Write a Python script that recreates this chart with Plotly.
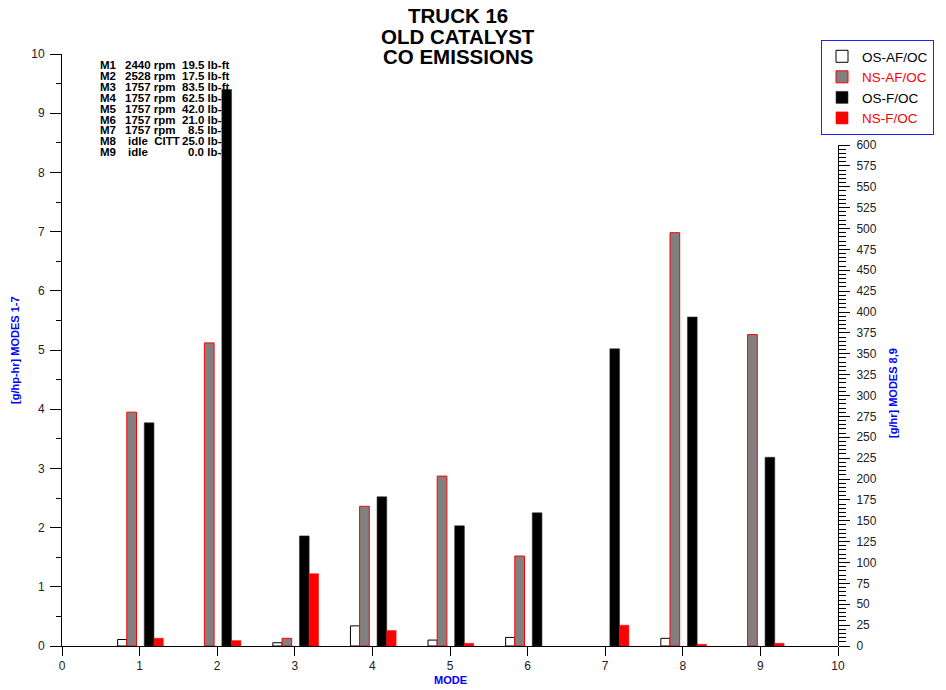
import plotly.graph_objects as go

# ---------------- data ----------------
modes_left = [1, 2, 3, 4, 5, 6, 7]          # plotted in g/hp-hr (left axis)
modes_right = [8, 9]                          # plotted in g/hr (right axis)

# None = no bar drawn for that mode
os_af_oc_left = [0.11, None, 0.055, 0.34, 0.10, 0.145, None]
ns_af_oc_left = [3.95, 5.12, 0.13, 2.36, 2.87, 1.52, None]
os_f_oc_left = [3.77, 9.40, 1.86, 2.52, 2.03, 2.25, 5.02]
ns_f_oc_left = [0.13, 0.09, 1.22, 0.26, 0.045, None, 0.35]

os_af_oc_right = [9.2, None]
ns_af_oc_right = [495, 373]
os_f_oc_right = [394, 226]
ns_f_oc_right = [2.0, 3.2]

series_names = ["OS-AF/OC", "NS-AF/OC", "OS-F/OC", "NS-F/OC"]

note_modes = ["M1", "M2", "M3", "M4", "M5", "M6", "M7", "M8", "M9"]
note_speeds = ["2440 rpm", "2528 rpm", "1757 rpm", "1757 rpm", "1757 rpm",
               "1757 rpm", "1757 rpm", "idle\u00a0\u00a0CITT", "idle"]
note_torques = ["19.5 lb-ft", "17.5 lb-ft", "83.5 lb-ft", "62.5 lb-ft", "42.0 lb-ft",
                "21.0 lb-ft", "8.5 lb-ft", "25.0 lb-ft", "0.0 lb-ft"]

title_lines = ["TRUCK 16", "OLD CATALYST", "CO EMISSIONS"]

# ---------------- layout helpers ----------------
OFF = 8                      # page body margin offset
WIN_W, WIN_H = 946, 690
W, H = WIN_W - OFF, WIN_H - OFF
PL, PR, PT, PB = 62, 838, 54, 646     # plot area in window pixels
L, T = PL - OFF, PT - OFF
R, B = W - (PR - OFF), H - (PB - OFF)
PW, PH = PR - PL, PB - PT


def px(x):
    return (x - PL) / PW


def py(y):
    return (PB - y) / PH


styles = [
    dict(color="white", line=dict(color="black", width=1), offset=-0.283, width=0.118,
         label="<span style='color:black'>OS-AF/OC</span>"),
    dict(color="#808080", line=dict(color="red", width=1), offset=-0.165, width=0.125,
         label="<span style='color:red'>NS-AF/OC</span>"),
    dict(color="black", line=dict(color="#333333", width=0.6), offset=0.06, width=0.125,
         label="<span style='color:black'>OS-F/OC</span>"),
    dict(color="red", line=dict(color="red", width=0.6), offset=0.185, width=0.12,
         label="<span style='color:red'>NS-F/OC</span>"),
]

left_vals = [os_af_oc_left, ns_af_oc_left, os_f_oc_left, ns_f_oc_left]
right_vals = [os_af_oc_right, ns_af_oc_right, os_f_oc_right, ns_f_oc_right]

fig = go.Figure()
for st, lv, name in zip(styles, left_vals, series_names):
    fig.add_trace(go.Bar(
        x=modes_left, y=lv, name=st["label"], legendgroup=name,
        offset=st["offset"], width=st["width"],
        marker=dict(color=st["color"], line=st["line"]),
        xaxis="x", yaxis="y"))
for st, rv, name in zip(styles, right_vals, series_names):
    fig.add_trace(go.Bar(
        x=modes_right, y=rv, name=st["label"], legendgroup=name, showlegend=False,
        offset=st["offset"], width=st["width"],
        marker=dict(color=st["color"], line=st["line"]),
        xaxis="x", yaxis="y2"))

tickfont = dict(family="Arial", size=12, color="#222222")
blue_title = dict(family="Arial", size=11, color="#0000ff")

annotations = []
title_y = [16, 36.5, 57]
for txt, yy in zip(title_lines, title_y):
    annotations.append(dict(
        text=f"<b>{txt}</b>", xref="paper", yref="paper", x=px(458.5), y=py(yy),
        xanchor="center", yanchor="middle", showarrow=False,
        font=dict(family="Arial", size=20.5, color="black")))

# axis titles
annotations.append(dict(text="<b>[g/hp-hr] MODES 1-7</b>", xref="paper", yref="paper",
                        x=px(15), y=py(350), textangle=-90, xanchor="center", yanchor="middle",
                        showarrow=False, font=blue_title))
annotations.append(dict(text="<b>[g/hr] MODES 8,9</b>", xref="paper", yref="paper",
                        x=px(893), y=py(393), textangle=-90, xanchor="center", yanchor="middle",
                        showarrow=False, font=blue_title))
annotations.append(dict(text="<b>MODE</b>", xref="paper", yref="paper",
                        x=px(450), y=py(680), xanchor="center", yanchor="middle",
                        showarrow=False, font=blue_title))

note_font = dict(family="Arial", size=11.5, color="black")
for i, (m, s, t) in enumerate(zip(note_modes, note_speeds, note_torques)):
    yy = py(65 + 10.9 * i)
    sx = 126 if s.startswith("idle") else 122.5
    annotations.append(dict(text=f"<b>{m}</b>", xref="paper", yref="paper", x=px(97.5), y=yy,
                            xanchor="left", yanchor="middle", showarrow=False, font=note_font))
    annotations.append(dict(text=f"<b>{s}</b>", xref="paper", yref="paper", x=px(sx), y=yy,
                            xanchor="left", yanchor="middle", showarrow=False, font=note_font))
    annotations.append(dict(text=f"<b>{t}</b>", xref="paper", yref="paper", x=px(231), y=yy,
                            xanchor="right", yanchor="middle", showarrow=False, font=note_font))

fig.update_layout(
    width=W, height=H, autosize=False,
    margin=dict(l=L, r=R, t=T, b=B, pad=0, autoexpand=False),
    paper_bgcolor="white", plot_bgcolor="rgba(0,0,0,0)",
    barmode="overlay",
    font=dict(family="Arial", color="black"),
    showlegend=True,
    legend=dict(xref="container", yref="container", x=(821 - OFF) / W, y=1 - (40 - OFF) / H,
                xanchor="left", yanchor="top",
                bordercolor="#2020ff", borderwidth=1, bgcolor="white",
                font=dict(family="Arial", size=13.5), tracegroupgap=0,
                itemwidth=30),
    xaxis=dict(range=[0, 10], dtick=1, tick0=0, ticks="outside", ticklen=9,
               tickcolor="black", showline=True, linecolor="black", linewidth=1,
               showgrid=False, zeroline=False, tickfont=tickfont, automargin=False),
    yaxis=dict(range=[0, 10], dtick=1, tick0=0, ticks="outside", ticklen=11,
               tickcolor="black", showline=True, linecolor="black", linewidth=1,
               showgrid=False, zeroline=False, tickfont=tickfont, automargin=False,
               ticklabelstandoff=3,
               minor=dict(dtick=0.5, ticks="outside", ticklen=5, tickcolor="black", showgrid=False)),
    yaxis2=dict(domain=[0, py(145)], range=[0, 600], dtick=25, tick0=0, anchor="x",
                side="right", ticks="outside", ticklen=11, tickcolor="black",
                showline=True, linecolor="black", linewidth=1, showgrid=False,
                zeroline=False, tickfont=tickfont, automargin=False, ticklabelstandoff=4,
                minor=dict(dtick=5, ticks="outside", ticklen=7, tickcolor="black", showgrid=False)),
    annotations=annotations,
)

fig.write_html("out.html")
